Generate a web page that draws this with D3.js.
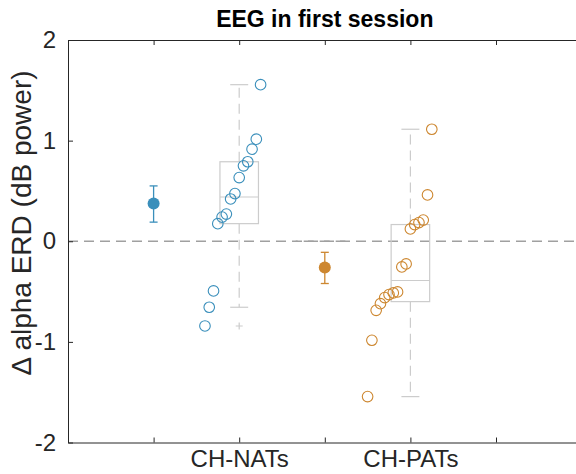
<!DOCTYPE html>
<html>
<head>
<meta charset="utf-8">
<script src="https://cdn.jsdelivr.net/npm/d3@7"></script>
<style>
  body { margin: 0; background: #fff; }
  svg { display: block; font-family: "Liberation Sans", Arial, sans-serif; }
</style>
</head>
<body>
<svg id="chart" width="576" height="474"></svg>
<script>
// ---- data ----
const categories = ["CH-NATs", "CH-PATs"];
const categoryX = [2, 4];
const meanX = [1, 3];
const xTickValues = [1, 2, 3, 4, 5];
const yTickValues = [-2, -1, 0, 1, 2];

const natsValues = [1.556, 1.014, 0.915, 0.79, 0.75, 0.633, 0.474, 0.42, 0.27, 0.24, 0.175, -0.494, -0.656, -0.842];
const natsJitterX = [2.25, 2.20, 2.15, 2.10, 2.05, 2.00, 1.95, 1.90, 1.85, 1.80, 1.75, 1.70, 1.65, 1.60];
const patsValues = [1.113, 0.46, 0.21, 0.186, 0.166, 0.122, -0.225, -0.255, -0.504, -0.514, -0.53, -0.56, -0.62, -0.686, -0.984, -1.544];
const patsJitterX = [4.25, 4.20, 4.15, 4.10, 4.05, 4.00, 3.95, 3.90, 3.85, 3.80, 3.75, 3.70, 3.65, 3.60, 3.55, 3.50];

const groupMeans = [0.375, -0.262];
const meanErrLow = [0.19, -0.42];
const meanErrHigh = [0.55, -0.11];

const boxQ1 = [0.175, -0.60];
const boxMedian = [0.44, -0.39];
const boxQ3 = [0.79, 0.166];
const whiskerLow = [-0.656, -1.544];
const whiskerHigh = [1.556, 1.113];
const boxOutliers = [[-0.842], []];

const colors = ["#3a8fbb", "#cd8730"];

// ---- layout ----
const svg = d3.select("#chart");
const x = d3.scaleLinear().domain([0, 6]).range([68, 581.6]);
const y = d3.scaleLinear().domain([-2, 2]).range([442.5, 40]);

const boxHalf = 0.225, capHalf = 0.105;

// zero reference line
svg.append("line")
  .attr("x1", x(0)).attr("x2", 576)
  .attr("y1", y(0)).attr("y2", y(0))
  .attr("stroke", "#a0a0a0").attr("stroke-width", 1.5)
  .attr("stroke-dasharray", "10,6");
svg.append("line")
  .attr("x1", x(2.66)).attr("x2", x(3.24))
  .attr("y1", y(0)).attr("y2", y(0))
  .attr("stroke", "#a0a0a0").attr("stroke-width", 1.5)
  .attr("stroke-dasharray", "10,6").attr("stroke-dashoffset", 8);

// box plots
categoryX.forEach((cx, i) => {
  const g = svg.append("g").attr("fill", "none");
  const boxCol = "#cccccc";
  g.append("line").attr("x1", x(cx)).attr("x2", x(cx))
    .attr("y1", y(boxQ3[i])).attr("y2", y(whiskerHigh[i]))
    .attr("stroke", boxCol).attr("stroke-width", 1.2).attr("stroke-dasharray", "10,6");
  g.append("line").attr("x1", x(cx)).attr("x2", x(cx))
    .attr("y1", y(boxQ1[i])).attr("y2", y(whiskerLow[i]))
    .attr("stroke", boxCol).attr("stroke-width", 1.2).attr("stroke-dasharray", "10,6");
  [whiskerHigh[i], whiskerLow[i]].forEach(v => {
    g.append("line").attr("x1", x(cx - capHalf)).attr("x2", x(cx + capHalf))
      .attr("y1", y(v)).attr("y2", y(v))
      .attr("stroke", boxCol).attr("stroke-width", 1.2);
  });
  g.append("rect")
    .attr("x", x(cx - boxHalf)).attr("width", x(cx + boxHalf) - x(cx - boxHalf))
    .attr("y", y(boxQ3[i])).attr("height", y(boxQ1[i]) - y(boxQ3[i]))
    .attr("stroke", boxCol).attr("stroke-width", 1.2);
  g.append("line").attr("x1", x(cx - boxHalf)).attr("x2", x(cx + boxHalf))
    .attr("y1", y(boxMedian[i])).attr("y2", y(boxMedian[i]))
    .attr("stroke", boxCol).attr("stroke-width", 1.2);
  boxOutliers[i].forEach(v => {
    g.append("path")
      .attr("d", `M${x(cx) - 3.5},${y(v)}h7M${x(cx)},${y(v) - 3.5}v7`)
      .attr("stroke", boxCol).attr("stroke-width", 1.2);
  });
});

// individual points
const groups = [
  { vals: natsValues, xs: natsJitterX, col: colors[0] },
  { vals: patsValues, xs: patsJitterX, col: colors[1] }
];
groups.forEach(gr => {
  svg.append("g").selectAll("circle")
    .data(gr.vals.map((v, j) => [gr.xs[j], v]))
    .join("circle")
    .attr("cx", d => x(d[0])).attr("cy", d => y(d[1]))
    .attr("r", 5.3)
    .attr("fill", "none").attr("stroke", gr.col).attr("stroke-width", 1.1);
});

// means with error bars
meanX.forEach((mx, i) => {
  const g = svg.append("g").attr("stroke", colors[i]).attr("stroke-width", 1.3);
  g.append("line").attr("x1", x(mx)).attr("x2", x(mx))
    .attr("y1", y(meanErrLow[i])).attr("y2", y(meanErrHigh[i]));
  [meanErrLow[i], meanErrHigh[i]].forEach(v => {
    g.append("line").attr("x1", x(mx) - 4).attr("x2", x(mx) + 4)
      .attr("y1", y(v)).attr("y2", y(v));
  });
  svg.append("circle").attr("cx", x(mx)).attr("cy", y(groupMeans[i]))
    .attr("r", 6).attr("fill", colors[i]);
});

// axes
const axisColor = "#262626";
const xAxis = d3.axisBottom(x).tickValues(xTickValues)
  .tickFormat(d => { const k = categoryX.indexOf(d); return k >= 0 ? categories[k] : ""; })
  .tickSizeInner(-5).tickSizeOuter(0).tickPadding(7);
const gx = svg.append("g").attr("transform", `translate(0,${y(-2)})`).call(xAxis);

const xTop = d3.axisTop(x).tickValues(xTickValues).tickFormat("")
  .tickSizeInner(-5).tickSizeOuter(0);
const gt = svg.append("g").attr("transform", `translate(0,${y(2)})`).call(xTop);

const yAxis = d3.axisLeft(y).tickValues(yTickValues).tickFormat(d => String(d))
  .tickSizeInner(-5).tickSizeOuter(0).tickPadding(12);
const gy = svg.append("g").attr("transform", `translate(${x(0)},0)`).call(yAxis);

[gx, gt, gy].forEach(g => {
  g.select(".domain").attr("stroke", axisColor).attr("stroke-width", 1);
  g.selectAll(".tick line").attr("stroke", axisColor).attr("stroke-width", 1);
  g.selectAll(".tick text").attr("fill", axisColor)
    .style("font-family", '"Liberation Sans", Arial, sans-serif')
    .style("font-size", "24px");
});
gx.selectAll(".tick text").attr("dy", "0.71em");

// title
svg.append("text")
  .attr("x", (x(0) + x(6)) / 2).attr("y", 27)
  .attr("text-anchor", "middle")
  .style("font-size", "23px").style("font-weight", "bold")
  .attr("fill", "#000")
  .text("EEG in first session");

// y label
svg.append("text")
  .attr("transform", `translate(31,${223}) rotate(-90)`)
  .attr("text-anchor", "middle")
  .style("font-size", "28px")
  .attr("fill", axisColor)
  .text("Δ alpha ERD (dB power)");
</script>
</body>
</html>
